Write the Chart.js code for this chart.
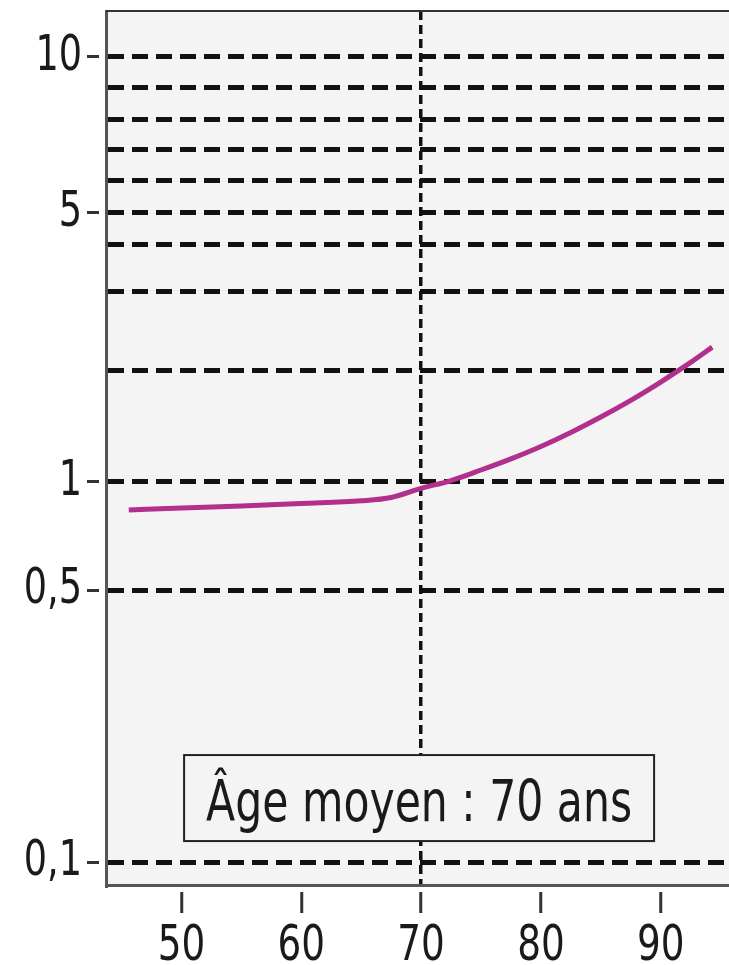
<!DOCTYPE html>
<html>
<head>
<meta charset="utf-8">
<script src="https://cdn.jsdelivr.net/npm/chart.js@4/dist/chart.umd.min.js"></script>
<style>
  html, body { margin: 0; padding: 0; background: #ffffff; }
  #wrap { width: 729px; height: 965px; }
</style>
</head>
<body>
<div id="wrap"><canvas id="c" width="729" height="965"></canvas></div>
<script>
// ---- data ----
const ages = [45.6, 50, 55, 60, 65, 67.5, 70, 72.5, 75, 77.5, 80, 82.5, 85, 87.5, 90, 92.5, 94.3];
const risk = [0.836, 0.846, 0.857, 0.871, 0.886, 0.905, 0.96, 1.009, 1.077, 1.154, 1.246, 1.359, 1.495, 1.658, 1.857, 2.08, 2.25];

const xTickValues = [50, 60, 70, 80, 90];
const yGridValues = [0.1, 0.5, 1, 2, 3, 4, 5, 6, 7, 8, 9, 10];
const yLabelValues = [0.1, 0.5, 1, 5, 10];
const yLabelTexts = ['0,1', '0,5', '1', '5', '10'];

const meanAge = 70;
const boxText = 'Âge moyen : 70 ans';
const boxValueY = 0.146;

// ---- the reference's (non-uniform) vertical axis: stops value -> fraction of axis height ----
const yStopValues    = [0.087, 0.1,    0.5,    1,      2,      3,      4,      5,      6,      7,      8,      9,      10,     11.6];
const yStopFractions = [0,     0.0263, 0.3375, 0.4611, 0.5892, 0.6796, 0.7323, 0.7689, 0.8055, 0.8410, 0.8764, 0.9119, 0.9474, 1];

class StopScale extends Chart.Scale {
  determineDataLimits() {
    this.min = yStopValues[0];
    this.max = yStopValues[yStopValues.length - 1];
  }
  buildTicks() {
    return yGridValues.map(v => ({ value: v }));
  }
  _frac(v) {
    const n = yStopValues.length;
    let i = 0;
    while (i < n - 2 && v > yStopValues[i + 1]) i++;
    const a = Math.log(yStopValues[i]), b = Math.log(yStopValues[i + 1]);
    const t = (Math.log(v) - a) / (b - a);
    return yStopFractions[i] + t * (yStopFractions[i + 1] - yStopFractions[i]);
  }
  getPixelForValue(v) {
    return this.getPixelForDecimal(this._frac(v));
  }
  getValueForPixel(p) {
    const d = this.getDecimalForPixel(p);
    const n = yStopFractions.length;
    let i = 0;
    while (i < n - 2 && d > yStopFractions[i + 1]) i++;
    const t = (d - yStopFractions[i]) / (yStopFractions[i + 1] - yStopFractions[i]);
    const a = Math.log(yStopValues[i]), b = Math.log(yStopValues[i + 1]);
    return Math.exp(a + t * (b - a));
  }
  getLabelForValue(v) { return String(v); }
}
StopScale.id = 'stops';
StopScale.defaults = {};
Chart.register(StopScale);

const FONT = "'DejaVu Sans Condensed', 'DejaVu Sans', sans-serif";
const TEXT_SQUEEZE = 0.83; // the reference uses a narrow typeface

const narrowTextPlugin = {
  id: 'narrowText',
  beforeInit(chart) {
    const ctx = chart.ctx;
    const orig = ctx.fillText.bind(ctx);
    ctx.fillText = function (text, x, y) {
      ctx.save();
      ctx.translate(x, y);
      ctx.scale(TEXT_SQUEEZE, 1);
      orig(text, 0, 0);
      ctx.restore();
    };
  }
};

const framePlugin = {
  id: 'frame',
  beforeDraw(chart) {
    const { ctx, chartArea: a } = chart;
    ctx.save();
    ctx.fillStyle = '#f4f4f4';
    ctx.fillRect(a.left, a.top, a.right - a.left, a.bottom - a.top);
    ctx.restore();
  },
  afterDraw(chart) {
    const { ctx, chartArea: a } = chart;
    ctx.save();
    ctx.strokeStyle = '#333';
    ctx.lineWidth = 2;
    ctx.beginPath();
    ctx.moveTo(a.left, a.top);
    ctx.lineTo(a.right, a.top);
    ctx.stroke();
    ctx.restore();
  }
};

const boxPlugin = {
  id: 'meanBox',
  afterDatasetsDraw(chart) {
    const { ctx } = chart;
    const cx = chart.scales.x.getPixelForValue(meanAge) - 2;
    const cy = chart.scales.y.getPixelForValue(boxValueY);
    const w = 470, h = 86;
    ctx.save();
    ctx.fillStyle = '#f4f4f4';
    ctx.fillRect(cx - w / 2, cy - h / 2, w, h);
    ctx.strokeStyle = '#222';
    ctx.lineWidth = 2;
    ctx.strokeRect(cx - w / 2, cy - h / 2, w, h);
    ctx.fillStyle = '#1a1a1a';
    ctx.font = '57px ' + FONT;
    ctx.textAlign = 'center';
    ctx.textBaseline = 'alphabetic';
    ctx.fillText(boxText, cx, cy + 23);
    ctx.restore();
  }
};

new Chart(document.getElementById('c'), {
  type: 'line',
  data: {
    datasets: [{
      data: ages.map((a, i) => ({ x: a, y: risk[i] })),
      borderColor: '#b22f8e',
      borderWidth: 5,
      pointRadius: 0,
      fill: false,
      cubicInterpolationMode: 'monotone'
    }]
  },
  options: {
    responsive: false,
    animation: false,
    events: [],
    layout: { padding: { top: 11, right: 0, bottom: 0, left: 0 } },
    plugins: { legend: { display: false }, tooltip: { enabled: false }, title: { display: false } },
    scales: {
      x: {
        type: 'linear',
        min: 43.7,
        max: 95.7,
        afterFit(s) { s.height = 80; s.paddingLeft = 0; s.paddingRight = 0; },
        afterBuildTicks(s) { s.ticks = xTickValues.map(v => ({ value: v })); },
        border: { display: true, color: '#555', width: 3, dash: [9, 5] },
        grid: {
          drawOnChartArea: true,
          color: c => (c.tick && c.tick.value === meanAge) ? '#111' : 'rgba(0,0,0,0)',
          lineWidth: 3.5,
          tickColor: '#333',
          tickWidth: 3,
          tickLength: 28,
          tickBorderDash: [0, 5, 23, 200]
        },
        ticks: {
          padding: 4,
          color: '#1a1a1a',
          font: { family: FONT, size: 50 },
          maxRotation: 0,
          autoSkip: false,
          callback: v => String(v)
        }
      },
      y: {
        type: 'stops',
        position: 'left',
        afterFit(s) { s.width = 106; s.paddingTop = 0; s.paddingBottom = 0; },
        border: { display: true, color: '#555', width: 3, dash: [16, 8] },
        grid: {
          color: '#111',
          lineWidth: 5,
          tickColor: c => (c.tick && yLabelValues.includes(c.tick.value)) ? '#333' : 'rgba(0,0,0,0)',
          tickWidth: 3,
          tickLength: 19,
          tickBorderDash: [12, 200]
        },
        ticks: {
          padding: 5,
          color: '#1a1a1a',
          font: { family: FONT, size: 49 },
          autoSkip: false,
          callback: v => {
            const k = yLabelValues.indexOf(v);
            return k >= 0 ? yLabelTexts[k] : '';
          }
        }
      }
    }
  },
  plugins: [narrowTextPlugin, framePlugin, boxPlugin]
});
</script>
</body>
</html>
